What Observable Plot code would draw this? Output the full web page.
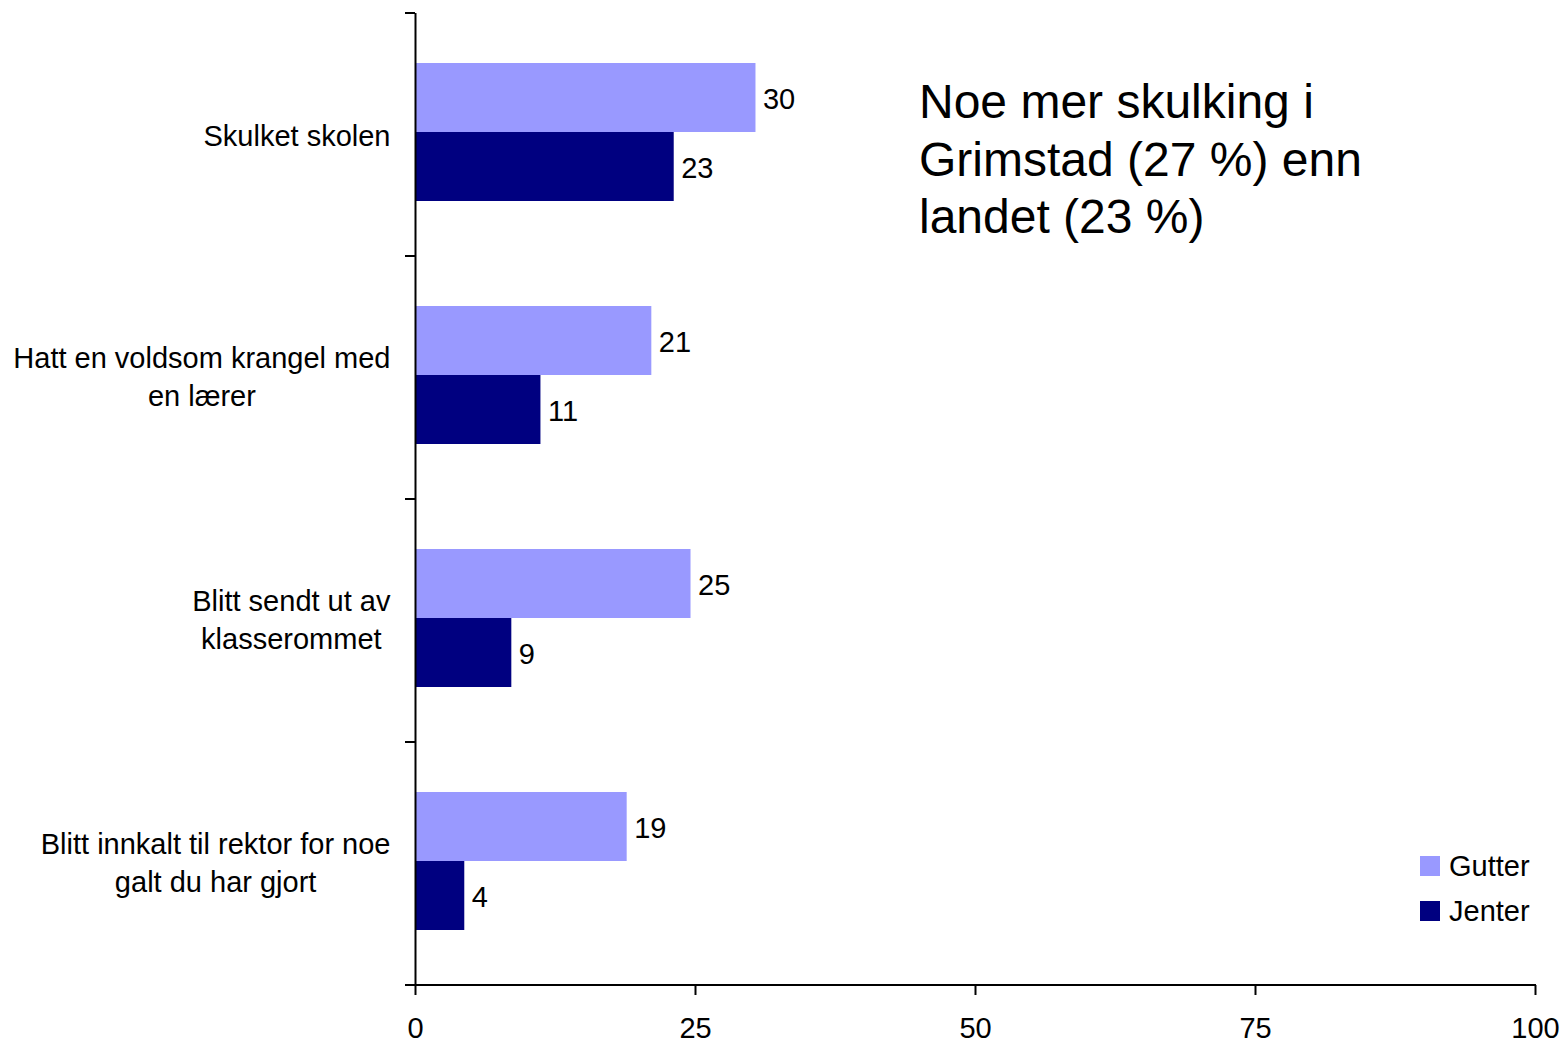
<!DOCTYPE html>
<html><head><meta charset="utf-8">
<script src="https://cdn.jsdelivr.net/npm/d3@7"></script>
<script src="https://cdn.jsdelivr.net/npm/@observablehq/plot@0.6"></script>
<style>
body{margin:0;background:#fff;}
#wrap{position:relative;width:1562px;height:1042px;font-family:'Liberation Sans',Arial,sans-serif;color:#000;}
#title{position:absolute;left:919px;top:73px;font-size:48px;line-height:57.5px;white-space:pre-line;}
#legend{position:absolute;left:1420px;top:856px;font-size:29px;}
.row{display:flex;align-items:center;height:20px;margin-bottom:25px;}
.sw{width:20px;height:20px;margin-right:9px;}
</style></head><body>
<div id="wrap"><div id="chart"></div><div id="title"></div><div id="legend"></div></div>
<script>
const categories = ["Skulket skolen", "Hatt en voldsom krangel med en lærer", "Blitt sendt ut av klasserommet", "Blitt innkalt til rektor for noe galt du har gjort"];
const categoryLabels = ["Skulket skolen", "Hatt en voldsom krangel med\nen lærer", "Blitt sendt ut av\nklasserommet", "Blitt innkalt til rektor for noe\ngalt du har gjort"];
const series = ["Gutter", "Jenter"];
const seriesColors = ["#9999FF", "#000080"];
const gutterValues = [30.4, 21.1, 24.6, 18.9];
const jenterValues = [23.1, 11.2, 8.6, 4.4];
const gutterLabels = ["30", "21", "25", "19"];
const jenterLabels = ["23", "11", "9", "4"];
const xTicks = [0, 25, 50, 75, 100];
const titleText = "Noe mer skulking i\nGrimstad (27 %) enn\nlandet (23 %)";

const FONT = "'Liberation Sans', Arial, sans-serif";
const data = [];
categories.forEach((c, i) => {
  data.push({category: c, series: series[0], value: gutterValues[i], label: gutterLabels[i]});
  data.push({category: c, series: series[1], value: jenterValues[i], label: jenterLabels[i]});
});

const ctx = document.createElement("canvas").getContext("2d");
ctx.font = "29px 'Liberation Sans'";
const labelWidth = s => Math.max(...s.split("\n").map(l => ctx.measureText(l).width));

const catLabelMarks = categories.map((c, i) => Plot.text([c], {
  fy: d => d, frameAnchor: "left", text: () => categoryLabels[i],
  textAnchor: "middle", lineHeight: 1.33,
  dx: -(25 + labelWidth(categoryLabels[i]) / 2),
  dy: categoryLabels[i].includes("\n") ? -3.5 : -1.5,
  fill: "#000", fontSize: 29
}));

const chart = Plot.plot({
  width: 1562, height: 1042,
  marginLeft: 415, marginRight: 27, marginTop: 12, marginBottom: 57,
  style: {fontFamily: FONT, fontSize: "29px", color: "#000", background: "transparent"},
  x: {domain: [0, 100], label: null},
  y: {domain: series, paddingInner: 0, paddingOuter: 0.75, align: 0.48, axis: null},
  fy: {domain: categories, padding: 0, axis: null},
  color: {domain: series, range: seriesColors},
  marks: [
    Plot.barX(data, {x: "value", y: "series", fy: "category", fill: "series"}),
    Plot.text(data, {x: "value", y: "series", fy: "category", text: "label", textAnchor: "start", dx: 7, dy: 1.5, fill: "#000", fontSize: 29}),
    ...catLabelMarks,
    Plot.ruleX([0], {stroke: "#000", strokeWidth: 2}),
    Plot.axisX({ticks: xTicks, label: null, tickSize: 10, tickPadding: 22, strokeWidth: 2, fontSize: 29, fill: "#000", stroke: "#000"})
  ]
});
document.getElementById("chart").appendChild(chart);

// axis line and category boundary ticks, positioned via Plot's scales
const fyS = chart.scale("fy"), xS = chart.scale("x");
const x0 = xS.apply(0), x1 = xS.apply(100);
const g = d3.select(chart).append("g").attr("stroke", "#000").attr("stroke-width", 2);
categories.forEach(c => {
  const yy = fyS.apply(c);
  g.append("line").attr("x1", x0 - 10).attr("x2", x0).attr("y1", yy).attr("y2", yy);
});
const yb = Math.max(...fyS.range);
g.append("line").attr("x1", x0 - 10).attr("x2", x1 + 1).attr("y1", yb).attr("y2", yb);

document.getElementById("title").textContent = titleText;
const legend = d3.select("#legend");
series.forEach((s, i) => {
  const row = legend.append("div").attr("class", "row");
  row.append("div").attr("class", "sw").style("background", seriesColors[i]);
  row.append("span").text(s);
});
</script>
</body></html>
